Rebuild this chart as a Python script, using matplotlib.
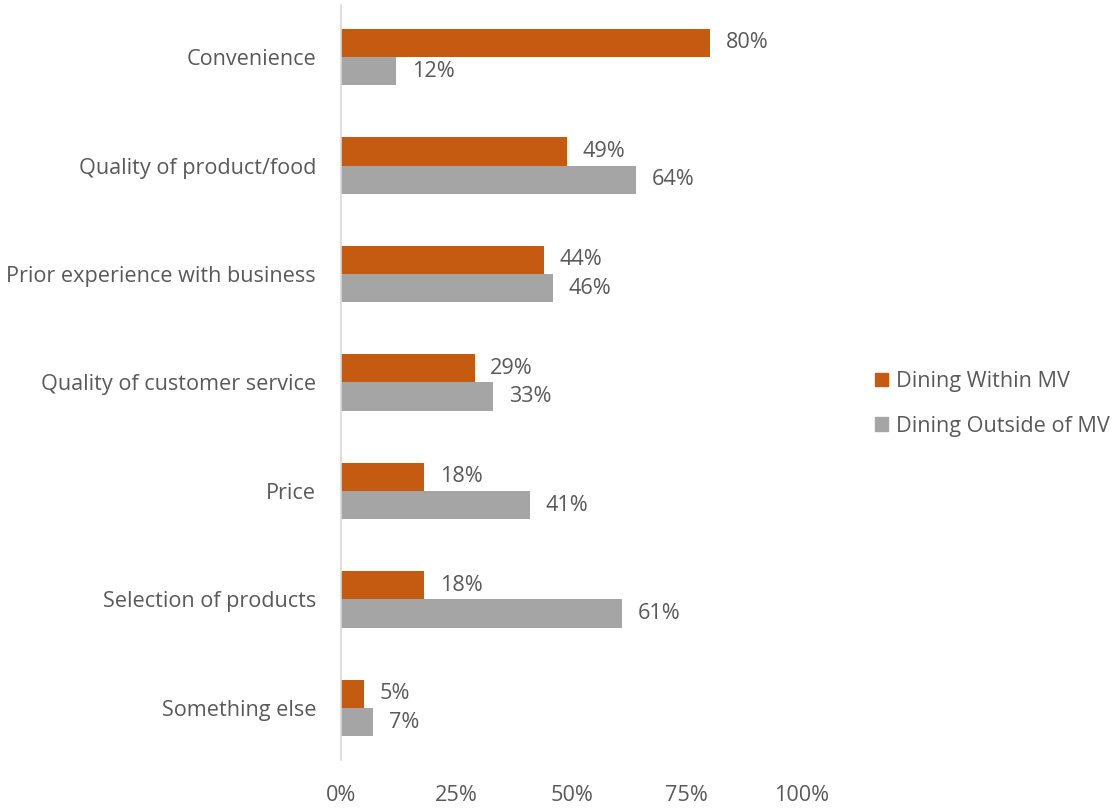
import matplotlib.pyplot as plt
import numpy as np
from matplotlib.patches import Patch

plt.rcParams['font.family'] = ['Open Sans', 'DejaVu Sans']

categories = ["Convenience", "Quality of product/food", "Prior experience with business",
              "Quality of customer service", "Price", "Selection of products", "Something else"]
within_mv = [80, 49, 44, 29, 18, 18, 5]
outside_mv = [12, 64, 46, 33, 41, 61, 7]
series_names = ["Dining Within MV", "Dining Outside of MV"]
xticks = [0, 25, 50, 75, 100]

orange = "#C55A11"
gray = "#A5A5A5"
text_col = "#595959"
fs = 15.6

fig = plt.figure(figsize=(11.14, 8.10), dpi=100)
ax = fig.add_axes([341 / 1114, 1 - 760 / 810, (802 - 341) / 1114, 755 / 810])

y = np.arange(len(categories))
h = 0.26
ax.barh(y - h / 2, within_mv, height=h, color=orange)
ax.barh(y + h / 2, outside_mv, height=h, color=gray)

for i in range(len(categories)):
    ax.text(within_mv[i] + 3.4, y[i] - h / 2, f"{within_mv[i]}%", va="center", ha="left",
            fontsize=fs, color=text_col)
    ax.text(outside_mv[i] + 3.4, y[i] + h / 2, f"{outside_mv[i]}%", va="center", ha="left",
            fontsize=fs, color=text_col)

ax.set_ylim(len(categories) - 0.52, -0.48)
ax.set_xlim(0, 100)
ax.set_yticks(y)
ax.set_yticklabels(categories, fontsize=fs, color=text_col)
ax.set_xticks(xticks)
ax.set_xticklabels([f"{t}%" for t in xticks], fontsize=fs, color=text_col)
ax.tick_params(axis="both", length=0)
ax.tick_params(axis="y", pad=18)
ax.tick_params(axis="x", pad=18)
for s in ["top", "right", "bottom"]:
    ax.spines[s].set_visible(False)
ax.spines["left"].set_color("#D9D9D9")
ax.spines["left"].set_linewidth(1.2)

handles = [Patch(color=orange), Patch(color=gray)]
fig.legend(handles, series_names, loc="center left", bbox_to_anchor=(855 / 1114, 1 - 404 / 810),
           frameon=False, fontsize=fs, labelcolor=text_col, handlelength=0.6, handleheight=0.6,
           handletextpad=0.4, labelspacing=1.1)

fig.savefig("out.png", dpi=100)
